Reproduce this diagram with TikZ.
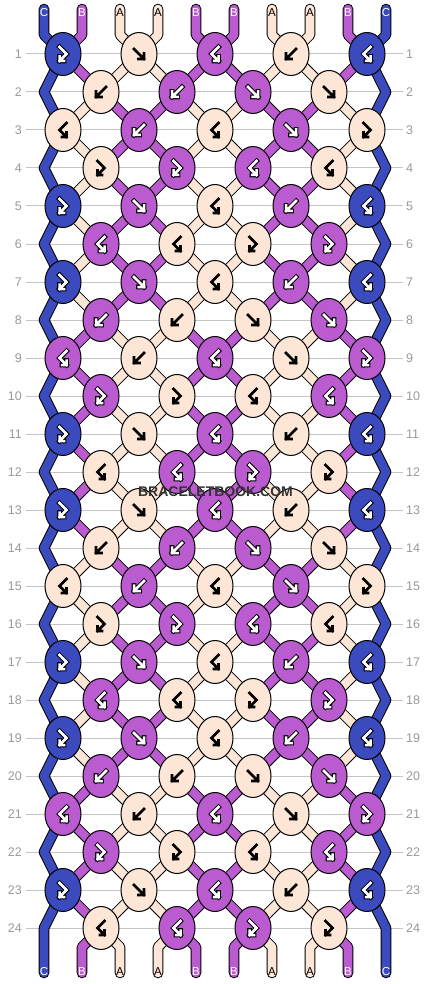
\documentclass[tikz,border=0pt]{standalone}
\usepackage{fontspec}
\setmainfont{Liberation Sans}
\usetikzlibrary{shapes.geometric}
\definecolor{colC}{HTML}{3B4BBE}
\definecolor{colB}{HTML}{BA5BCF}
\definecolor{colA}{HTML}{FDE6D5}
\definecolor{numgrey}{HTML}{9A9A9A}
\definecolor{linegrey}{HTML}{C4C4C4}
\definecolor{wmgrey}{HTML}{333333}
\expandafter\def\csname rd1\endcsname{C/fb,A/f,B/bf,A/b,C/bf}
\expandafter\def\csname rd2\endcsname{A/b,B/b,B/f,A/f}
\expandafter\def\csname rd3\endcsname{A/bf,B/b,A/bf,B/f,A/fb}
\expandafter\def\csname rd4\endcsname{A/fb,B/fb,B/bf,A/bf}
\expandafter\def\csname rd5\endcsname{C/fb,B/f,A/bf,B/b,C/bf}
\expandafter\def\csname rd6\endcsname{B/bf,A/bf,A/fb,B/fb}
\expandafter\def\csname rd7\endcsname{C/fb,B/f,A/bf,B/b,C/bf}
\expandafter\def\csname rd8\endcsname{B/b,A/b,A/f,B/f}
\expandafter\def\csname rd9\endcsname{B/bf,A/b,B/bf,A/f,B/fb}
\expandafter\def\csname rd10\endcsname{B/fb,A/fb,A/bf,B/bf}
\expandafter\def\csname rd11\endcsname{C/fb,A/f,B/bf,A/b,C/bf}
\expandafter\def\csname rd12\endcsname{A/bf,B/bf,B/fb,A/fb}
\newcommand\glyTf[1]{\draw[#1] (-5,-5) -- (5,5) (5,-0.5) -- (5,5) -- (-0.5,5);}
\newcommand\glyTb[1]{\draw[#1] (5,-5) -- (-5,5) (-5,-0.5) -- (-5,5) -- (0.5,5);}
\newcommand\glyTfb[1]{\draw[#1] (-3.5,-7) -- (3.5,0) -- (-3.5,7) (-3.5,2.5) -- (-3.5,7) -- (1,7);}
\newcommand\glyTbf[1]{\draw[#1] (3.5,-7) -- (-3.5,0) -- (3.5,7) (3.5,2.5) -- (3.5,7) -- (-1,7);}
\begin{document}
\begin{tikzpicture}[x=1pt,y=-1pt,
  rowline/.style={draw=linegrey, line width=1pt},
  rownum/.style={text=numgrey, inner sep=0pt, font=\fontsize{12.5}{13}\selectfont},
  thrO/.style={line width=10.6pt, draw=black},
  thrI/.style={line width=8.6pt},
  knot/.style={ellipse, minimum width=36pt, minimum height=43pt, inner sep=0pt, draw=black, line width=1pt},
  gout/.style={line width=4.6pt, black, line join=miter, line cap=rect},
  gwhite/.style={line width=2.5pt, white, line join=miter, line cap=rect},
  gblack/.style={line width=2.6pt, black, line join=miter, line cap=rect},
  lab/.style={inner sep=0pt, font=\fontsize{11.5}{12}\selectfont},
  wm/.style={inner sep=1pt, font=\bfseries\fontsize{14}{14}\selectfont}
]
\fill[white] (0,0) rectangle (430,984);
\useasboundingbox (0,0) rectangle (430,984);
% row lines and numbers
\foreach \r in {1,...,24}{
  \pgfmathsetmacro\yy{54+(\r-1)*38}
  \node[rownum, anchor=east] (ln-\r) at (22,\yy) {\r};
  \node[rownum, anchor=west] (rn-\r) at (406,\yy) {\r};
  \draw[rowline] ([xshift=4pt]ln-\r.east) -- ([xshift=-3pt]rn-\r.west);
}
% knot positions
\foreach \r in {1,...,24}{
  \pgfmathtruncatemacro\m{mod(\r-1,12)+1}
  \pgfmathsetmacro\yy{54+(\r-1)*38}
  \pgfmathtruncatemacro\od{mod(\r,2)}
  \edef\lst{\csname rd\m\endcsname}
  \foreach \kc/\kt [count=\i] in \lst {
    \pgfmathsetmacro\xx{\od==1 ? 63+76*(\i-1) : 101+76*(\i-1)}
    \coordinate (p-\r-\i) at (\xx,\yy);
  }
}
% inner threads between knots
\foreach \r in {1,...,23}{
  \pgfmathtruncatemacro\rn{\r+1}
  \pgfmathtruncatemacro\m{mod(\r-1,12)+1}
  \pgfmathtruncatemacro\S{(\m>1 && \m<8) ? 1 : 0}
  \pgfmathtruncatemacro\od{mod(\r,2)}
  \foreach \k in {1,...,4}{
    \pgfmathtruncatemacro\kk{\k+1}
    \pgfmathtruncatemacro\q{mod(\k+\S,2)}
    \ifnum\q=1 \def\ce{B}\def\co{A}\else\def\ce{A}\def\co{B}\fi
    \draw[thrO] (p-\r-\k) -- (p-\rn-\k);
    \draw[thrI,draw=col\ce] (p-\r-\k) -- (p-\rn-\k);
    \ifnum\od=1
      \draw[thrO] (p-\r-\kk) -- (p-\rn-\k);
      \draw[thrI,draw=col\co] (p-\r-\kk) -- (p-\rn-\k);
    \else
      \draw[thrO] (p-\r-\k) -- (p-\rn-\kk);
      \draw[thrI,draw=col\co] (p-\r-\k) -- (p-\rn-\kk);
    \fi
  }
}
% edge C threads
\foreach \ex/\ek in {44/1,386/5}{
  \draw[thrO, line cap=round, line join=round] (\ex,9) -- (\ex,35)
     \foreach \r in {1,3,...,23}{ -- (p-\r-\ek) -- (\ex,{54+\r*38}) } -- (\ex,973);
  \draw[thrI, draw=colC, line cap=round, line join=round] (\ex,9) -- (\ex,35)
     \foreach \r in {1,3,...,23}{ -- (p-\r-\ek) -- (\ex,{54+\r*38}) } -- (\ex,973);
}
% top ends
\foreach \p/\kc/\k in {2/B/1,3/A/2,4/A/2,5/B/3,6/B/3,7/A/4,8/A/4,9/B/5}{
  \pgfmathsetmacro\xx{44+38*(\p-1)}
  \draw[thrO, line cap=round, line join=round] (\xx,9) -- (\xx,35) -- (p-1-\k);
  \draw[thrI, draw=col\kc, line cap=round, line join=round] (\xx,9) -- (\xx,35) -- (p-1-\k);
}
% bottom ends
\foreach \p/\kc/\k in {2/B/1,3/A/1,4/A/2,5/B/2,6/B/3,7/A/3,8/A/4,9/B/4}{
  \pgfmathsetmacro\xx{44+38*(\p-1)}
  \draw[thrO, line cap=round, line join=round] (p-24-\k) -- (\xx,947) -- (\xx,973);
  \draw[thrI, draw=col\kc, line cap=round, line join=round] (p-24-\k) -- (\xx,947) -- (\xx,973);
}
% thread labels
\foreach \p/\kc in {1/C,2/B,3/A,4/A,5/B,6/B,7/A,8/A,9/B,10/C}{
  \pgfmathsetmacro\xx{44+38*(\p-1)}
  \if A\kc \def\lc{black}\else\def\lc{white}\fi
  \node[lab, text=\lc] (tl-\p) at (\xx,12.5) {\kc};
  \node[lab, text=\lc] (bl-\p) at (\xx,971.5) {\kc};
}
% knots
\foreach \r in {1,...,24}{
  \pgfmathtruncatemacro\m{mod(\r-1,12)+1}
  \edef\lst{\csname rd\m\endcsname}
  \foreach \kc/\kt [count=\i] in \lst {
    \node[knot, fill=col\kc] (k-\r-\i) at (p-\r-\i) {};
    \begin{scope}[shift={(k-\r-\i.center)}]
      \if A\kc
        \csname glyT\kt\endcsname{gblack}
      \else
        \csname glyT\kt\endcsname{gout}
        \csname glyT\kt\endcsname{gwhite}
      \fi
    \end{scope}
  }
}
% watermark
\node[wm, text=wmgrey] (wm) at (215.5,492) {BRACELETBOOK.COM};
\end{tikzpicture}
\end{document}
